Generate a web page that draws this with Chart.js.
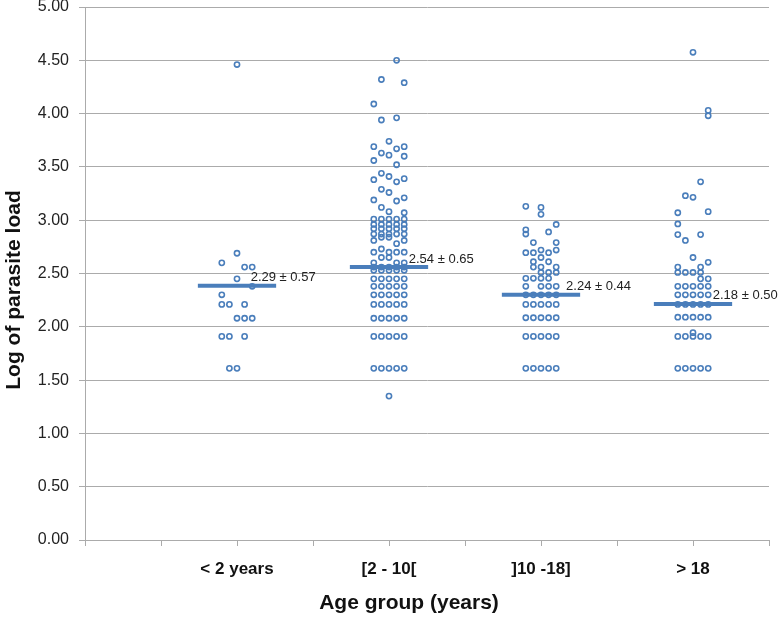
<html>
<head>
<script src="https://cdn.jsdelivr.net/npm/chart.js"></script>
<style>
  body { margin: 0; background: #fff; }
  #wrap { width: 778px; height: 617px; }
</style>
</head>
<body>
<div id="wrap"><canvas id="dotChart"></canvas></div>
<script>
// categories sit at x = 2, 4, 6, 8 on a 0..9 axis
const categories = ['< 2 years', '[2 - 10[', ']10 -18]', '> 18'];
const groupPos = [2, 4, 6, 8];
const meanValues = [2.385, 2.56, 2.30, 2.215];
const meanText = ['2.29 \u00b1 0.57', '2.54 \u00b1 0.65', '2.24 \u00b1 0.44', '2.18 \u00b1 0.50'];

// dots: y value and jitter column (-2..2)
const under2Y   = [4.46, 2.69, 2.60, 2.56, 2.56, 2.45, 2.38, 2.30, 2.21, 2.21, 2.21, 2.08, 2.08, 2.08, 1.91, 1.91, 1.91, 1.61, 1.61];
const under2Col = [0, 0, -2, 1, 2, 0, 2, -2, -2, -1, 1, 0, 1, 2, -2, -1, 1, -1, 0];

const g2to10Y = [4.50, 4.32, 4.29, 4.09, 3.94, 3.96, 3.74, 3.69, 3.69, 3.67, 3.63, 3.61, 3.60, 3.56, 3.52,
  3.44, 3.41, 3.38, 3.39, 3.36, 3.29, 3.26, 3.19, 3.21, 3.18, 3.12, 3.08, 3.07,
  3.01, 3.01, 3.01, 3.01, 3.01, 2.96, 2.96, 2.96, 2.96, 2.96, 2.92, 2.92, 2.92, 2.92, 2.92,
  2.87, 2.87, 2.87, 2.87, 2.87, 2.84, 2.84, 2.81, 2.81, 2.78, 2.73, 2.70, 2.70, 2.70, 2.70,
  2.65, 2.65, 2.60, 2.60, 2.60, 2.56, 2.56, 2.56, 2.56, 2.56, 2.53, 2.53, 2.53, 2.53, 2.53,
  2.45, 2.45, 2.45, 2.45, 2.45, 2.38, 2.38, 2.38, 2.38, 2.38, 2.30, 2.30, 2.30, 2.30, 2.30,
  2.21, 2.21, 2.21, 2.21, 2.21, 2.08, 2.08, 2.08, 2.08, 2.08, 1.91, 1.91, 1.91, 1.91, 1.91,
  1.61, 1.61, 1.61, 1.61, 1.61, 1.35];
const g2to10Col = [1, -1, 2, -2, -1, 1, 0, -2, 2, 1, -1, 0, 2, -2, 1,
  -1, 0, -2, 2, 1, -1, 0, -2, 2, 1, -1, 0, 2,
  -2, -1, 0, 1, 2, -2, -1, 0, 1, 2, -2, -1, 0, 1, 2,
  -2, -1, 0, 1, 2, -1, 0, -2, 2, 1, -1, -2, 0, 1, 2,
  -1, 0, -2, 1, 2, -2, -1, 0, 1, 2, -2, -1, 0, 1, 2,
  -2, -1, 0, 1, 2, -2, -1, 0, 1, 2, -2, -1, 0, 1, 2,
  -2, -1, 0, 1, 2, -2, -1, 0, 1, 2, -2, -1, 0, 1, 2,
  -2, -1, 0, 1, 2, 0];

const g10to18Y = [3.13, 3.12, 3.055, 2.96, 2.91, 2.89, 2.87, 2.79, 2.79, 2.72, 2.72, 2.695, 2.695, 2.695,
  2.65, 2.61, 2.61, 2.56, 2.56, 2.56, 2.51, 2.51, 2.51, 2.455, 2.455, 2.455, 2.455,
  2.38, 2.38, 2.38, 2.38, 2.30, 2.30, 2.30, 2.30, 2.30, 2.21, 2.21, 2.21, 2.21, 2.21,
  2.085, 2.085, 2.085, 2.085, 2.085, 1.91, 1.91, 1.91, 1.91, 1.91, 1.61, 1.61, 1.61, 1.61, 1.61];
const g10to18Col = [-2, 0, 0, 2, -2, 1, -2, -1, 2, 0, 2, -2, -1, 1,
  0, -1, 1, -1, 0, 2, 0, 1, 2, -2, -1, 0, 1,
  -2, 0, 1, 2, -2, -1, 0, 1, 2, -2, -1, 0, 1, 2,
  -2, -1, 0, 1, 2, -2, -1, 0, 1, 2, -2, -1, 0, 1, 2];

const over18Y = [4.575, 4.03, 3.98, 3.36, 3.23, 3.215, 3.07, 3.08, 2.965, 2.865, 2.865, 2.81, 2.65, 2.605,
  2.56, 2.56, 2.51, 2.51, 2.51, 2.51, 2.45, 2.45, 2.38, 2.38, 2.38, 2.38, 2.38,
  2.30, 2.30, 2.30, 2.30, 2.30, 2.21, 2.21, 2.21, 2.21, 2.21, 2.09, 2.09, 2.09, 2.09, 2.09,
  1.945, 1.91, 1.91, 1.91, 1.91, 1.91, 1.61, 1.61, 1.61, 1.61, 1.61];
const over18Col = [0, 2, 2, 1, -1, 0, -2, 2, -2, -2, 1, -1, 0, 2,
  -2, 1, -2, -1, 0, 1, 1, 2, -2, -1, 0, 1, 2,
  -2, -1, 0, 1, 2, -2, -1, 0, 1, 2, -2, -1, 0, 1, 2,
  0, -2, -1, 0, 1, 2, -2, -1, 0, 1, 2];

const groupsY = [under2Y, g2to10Y, g10to18Y, over18Y];
const groupsCol = [under2Col, g2to10Col, g10to18Col, over18Col];

const blue = '#4A7EBB';
const gridGray = '#ABABAB';
const fontFam = '"Liberation Sans", Arial, sans-serif';
const colStep = 0.1;       // jitter spacing in x units
const halfBar = 0.515;     // half length of the mean bar
const labelShift = [0.18, 0.26, 0.33, 0.26];

let datasets = [];
groupsY.forEach(function(ys, g) {
  datasets.push({
    type: 'scatter',
    data: ys.map(function(y, i) { return { x: groupPos[g] + groupsCol[g][i] * colStep, y: y }; }),
    pointRadius: 2.6,
    pointBorderWidth: 1.6,
    pointBorderColor: blue,
    pointBackgroundColor: 'rgba(255,255,255,0)',
    order: 2
  });
});
meanValues.forEach(function(m, g) {
  datasets.push({
    type: 'line',
    data: [{ x: groupPos[g] - halfBar, y: m }, { x: groupPos[g] + halfBar, y: m }],
    borderColor: blue,
    borderWidth: 4,
    pointRadius: 0,
    order: 1
  });
});

// mean labels next to the bars + both axis titles (drawn by hand, the original has them off-centre)
const meanLabelPlugin = {
  id: 'meanLabels',
  afterDatasetsDraw(chart) {
    const ctx = chart.ctx;
    const xs = chart.scales.x, ys = chart.scales.y;
    ctx.save();
    ctx.font = '13px ' + fontFam;
    ctx.fillStyle = '#222';
    ctx.textAlign = 'left';
    ctx.textBaseline = 'middle';
    meanText.forEach(function(t, g) {
      ctx.fillText(t, xs.getPixelForValue(groupPos[g] + labelShift[g]), ys.getPixelForValue(meanValues[g]) - 8);
    });
    ctx.restore();

    ctx.save();
    ctx.font = 'bold 21px ' + fontFam;
    ctx.fillStyle = '#111';
    ctx.textAlign = 'center';
    ctx.textBaseline = 'middle';
    ctx.fillText('Age group (years)', 409, 603);
    ctx.translate(14, 290);
    ctx.rotate(-Math.PI / 2);
    ctx.fillText('Log of parasite load', 0, 0);
    ctx.restore();
  }
};

new Chart(document.getElementById('dotChart'), {
  type: 'scatter',
  data: { datasets: datasets },
  plugins: [meanLabelPlugin],
  options: {
    responsive: true,
    maintainAspectRatio: false,
    animation: false,
    layout: { padding: { left: 0, right: 9, top: 7, bottom: 0 } },
    plugins: { legend: { display: false }, tooltip: { enabled: false } },
    scales: {
      x: {
        type: 'linear',
        min: 0,
        max: 9,
        afterFit: function(s) { s.height = 77; s.paddingLeft = 0; s.paddingRight = 0; },
        ticks: {
          stepSize: 1,
          autoSkip: false,
          maxRotation: 0,
          padding: 13,
          color: '#111',
          font: { family: fontFam, size: 17, weight: 'bold' },
          callback: function(v) {
            const i = groupPos.indexOf(v);
            return i >= 0 ? categories[i] : '';
          }
        },
        grid: { drawOnChartArea: false, color: gridGray, tickLength: 6 },
        border: { color: gridGray }
      },
      y: {
        min: 0,
        max: 5,
        afterFit: function(s) { s.width = 85; s.paddingTop = 0; s.paddingBottom = 0; },
        ticks: {
          stepSize: 0.5,
          padding: 10,
          color: '#222',
          font: { family: fontFam, size: 16 },
          callback: function(v) { return v.toFixed(2); }
        },
        grid: { color: gridGray, tickLength: 6 },
        border: { color: gridGray }
      }
    }
  }
});
</script>
</body>
</html>
